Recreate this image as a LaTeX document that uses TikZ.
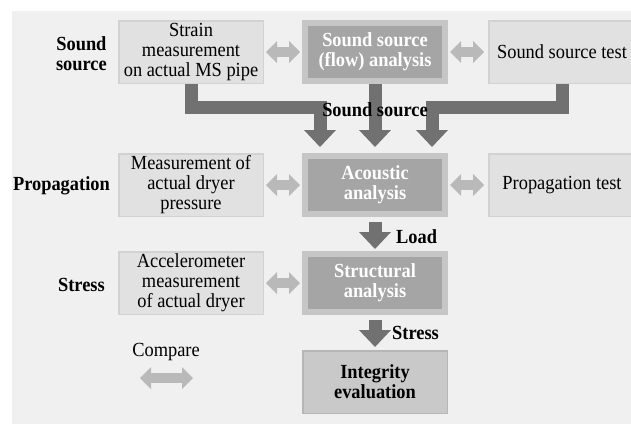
\documentclass[tikz,border=0pt]{standalone}
\usepackage{fontspec}
\setmainfont{Liberation Serif}
\newfontfamily\diagserif{Liberation Serif}[FakeStretch=0.92]
\usepackage{xcolor}
\usepackage{tikz}
\usetikzlibrary{arrows.meta}

\definecolor{panel}{HTML}{F0F0F0}
\definecolor{boxfill}{HTML}{E1E1E1}
\definecolor{boxline}{HTML}{D2D2D2}
\definecolor{anafill}{HTML}{A5A5A5}
\definecolor{anaedge}{HTML}{C6C6C6}
\definecolor{evalfill}{HTML}{C9C9C9}
\definecolor{evalline}{HTML}{B6B6B6}
\definecolor{fatgray}{HTML}{717171}
\definecolor{dblgray}{HTML}{B9B9B9}

\newcommand{\txtfont}{\diagserif\fontsize{20}{20}\selectfont}

\tikzset{
  meas/.style={draw=boxline,line width=1.5pt,fill=boxfill,minimum width=144.5pt,minimum height=62.5pt,align=center,inner sep=0pt,font=\txtfont},
  ana/.style={draw=anaedge,line width=6pt,fill=anafill,minimum width=140pt,minimum height=58pt,align=center,inner sep=0pt,text=white,font=\txtfont\bfseries},
  evalbox/.style={draw=evalline,line width=1.5pt,fill=evalfill,minimum width=144.5pt,minimum height=62.5pt,align=center,inner sep=0pt,font=\txtfont\bfseries},
  rowlabel/.style={anchor=east,align=center,inner sep=0pt,font=\txtfont\bfseries},
  lbl/.style={inner sep=0pt,font=\txtfont\bfseries},
  fat/.style={draw=fatgray,line width=13pt,-{Triangle[width=32pt,length=17pt,line width=0pt]}},
  cmp/.style={draw=dblgray,line width=10pt,{Triangle[width=22pt,length=11pt,line width=0pt]}-{Triangle[width=22pt,length=11pt,line width=0pt]}}
}

\begin{document}
\begin{tikzpicture}[x=1pt,y=-1pt]

\useasboundingbox (0,0) rectangle (631,424);
\fill[panel] (12,11) rectangle (631,424);

% measurements
\node [meas] (pipe) at (191,52) {Strain\\measurement\\on actual MS pipe};
\node [meas] (press) at (191,185) {Measurement of\\actual dryer\\pressure};
\node [meas] (accel) at (191,283) {Accelerometer\\measurement\\of actual dryer};

% analyses
\node [ana] (flow) at (375,52) {Sound source\\(flow) analysis};
\node [ana] (acou) at (375,185) {Acoustic\\analysis};
\node [ana] (struc) at (375,283) {Structural\\analysis};
\node [evalbox] (integ) at (375,382) {Integrity\\evaluation};

% tests
\node [meas,minimum width=146.5pt] (srctest) at (562,52) {Sound source test};
\node [meas,minimum width=146.5pt] (proptest) at (562,185) {Propagation test};

% row labels
\node [rowlabel] (lsrc) at (107,54) {Sound\\source};
\node [rowlabel] (lprop) at (110,186) {Propagation};
\node [rowlabel] (lstr) at (105,285) {Stress};

% sound source arrows
\coordinate (bar) at (0,107);
\coordinate (inL) at ([xshift=-55pt,yshift=6pt]acou.north);
\coordinate (inR) at ([xshift=57pt,yshift=6pt]acou.north);
\draw[fat] (pipe.south) -- (pipe.south |- bar) -- (inL |- bar) -- (inL);
\draw[fat] (flow.south) -- ([yshift=6pt]acou.north);
\draw[fat] (srctest.south) -- (srctest.south |- bar) -- (inR |- bar) -- (inR);
\node [lbl] (lsound) at (375,110) {Sound source};

\draw[fat] ([yshift=-5pt]acou.south) -- ([yshift=2pt]struc.north);
\node [lbl,anchor=west] (lload) at (396,237) {Load};
\draw[fat] ([yshift=-5pt]struc.south) -- ([yshift=3pt]integ.north);
\node [lbl,anchor=west] (lstress) at (392,333) {Stress};

% comparisons
\draw[cmp,shorten <=2pt,shorten >=2pt] (pipe) -- (flow);
\draw[cmp,shorten <=2pt,shorten >=4pt] (flow) -- (srctest);
\draw[cmp,shorten <=2pt,shorten >=2pt] (press) -- (acou);
\draw[cmp,shorten <=2pt,shorten >=4pt] (acou) -- (proptest);
\draw[cmp,shorten <=2pt,shorten >=2pt] (accel) -- (struc);

\node [inner sep=0pt,font=\txtfont] (cmptext) at (166,352) {Compare};
\coordinate (cmpL) at (140,378);
\coordinate (cmpR) at (193,378);
\draw[cmp] (cmpL) -- (cmpR);

\end{tikzpicture}
\end{document}
